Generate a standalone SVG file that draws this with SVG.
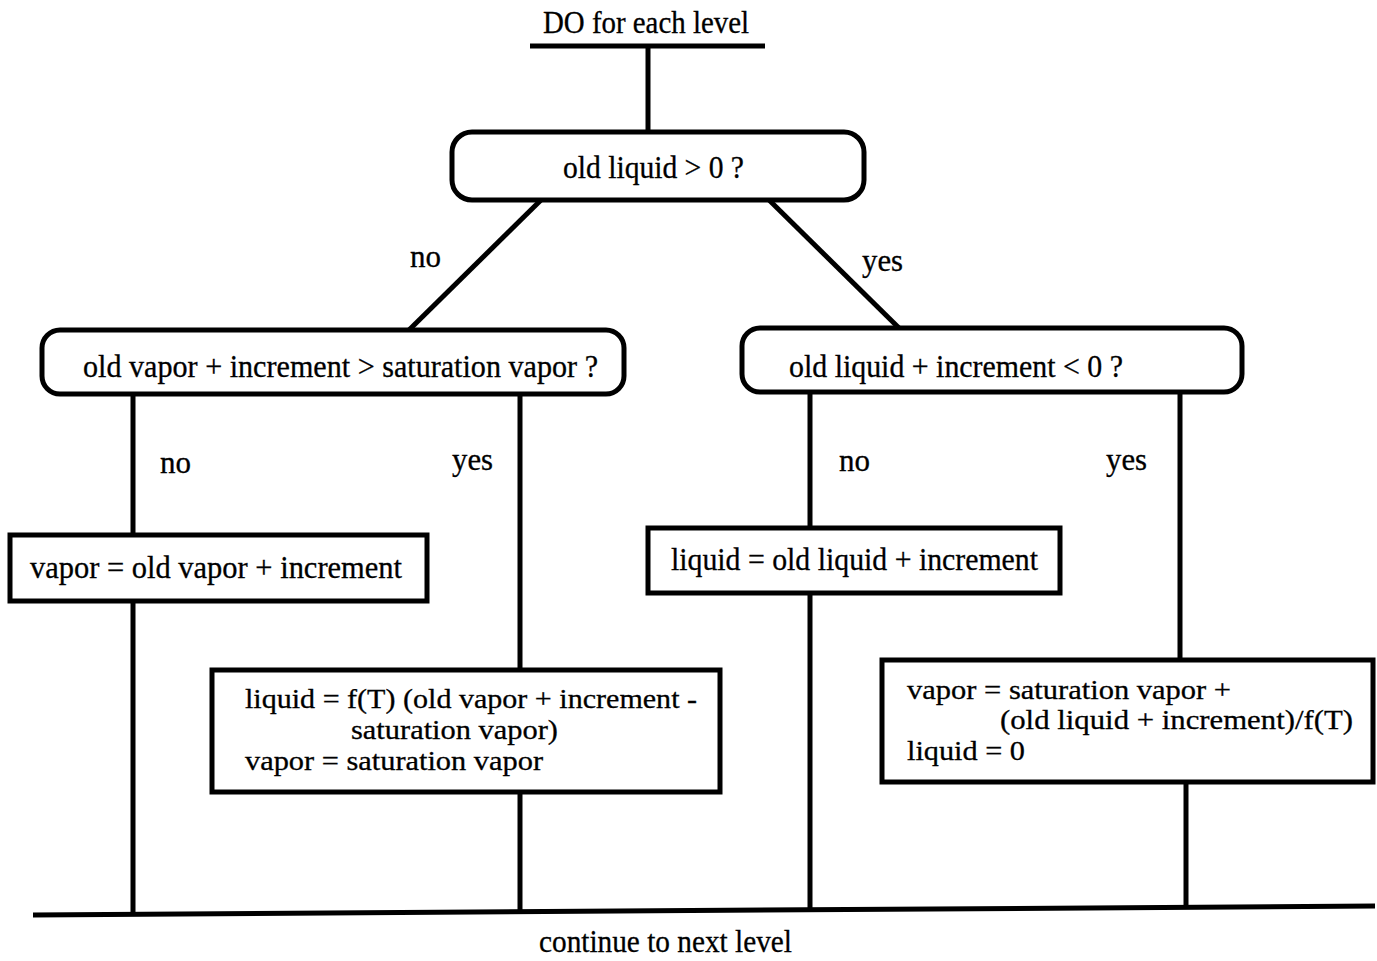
<svg xmlns="http://www.w3.org/2000/svg" width="1377" height="961" viewBox="0 0 1377 961">
  <style>
    text { font-family: "Liberation Serif", "Times New Roman", serif; font-size: 31px; fill: #000; stroke: #000; stroke-width: 0.3; }
    text.tight { font-size: 28px; }
    .dec { fill: #fff; stroke: #000; stroke-width: 5; }
    .proc { fill: #fff; stroke: #000; stroke-width: 5; }
    .wire { stroke: #000; stroke-width: 5; fill: none; stroke-linecap: butt; }
  </style>
  <rect width="1377" height="961" fill="#fff"/>

  <!-- connectors -->
  <g id="connectors">
    <line class="wire" x1="530" y1="46" x2="765" y2="46"/>
    <line class="wire" x1="648" y1="46" x2="648" y2="133"/>
    <line class="wire" x1="541" y1="200" x2="408" y2="331"/>
    <line class="wire" x1="766" y1="197" x2="900" y2="329"/>
    <line class="wire" x1="133" y1="395" x2="133" y2="535"/>
    <line class="wire" x1="520" y1="395" x2="520" y2="670"/>
    <line class="wire" x1="810" y1="393" x2="810" y2="528"/>
    <line class="wire" x1="1180" y1="386" x2="1180" y2="660"/>
    <line class="wire" x1="133" y1="602" x2="133" y2="915"/>
    <line class="wire" x1="520" y1="792" x2="520" y2="912"/>
    <line class="wire" x1="810" y1="594" x2="810" y2="911"/>
    <line class="wire" x1="1186" y1="783" x2="1186" y2="908"/>
    <line class="wire" x1="33" y1="915" x2="1375" y2="906"/>
    <text x="410" y="267" textLength="31" lengthAdjust="spacingAndGlyphs">no</text>
    <text x="862" y="271" textLength="41" lengthAdjust="spacingAndGlyphs">yes</text>
    <text x="160" y="473" textLength="31" lengthAdjust="spacingAndGlyphs">no</text>
    <text x="452" y="470" textLength="41" lengthAdjust="spacingAndGlyphs">yes</text>
    <text x="839" y="471" textLength="31" lengthAdjust="spacingAndGlyphs">no</text>
    <text x="1106" y="470" textLength="41" lengthAdjust="spacingAndGlyphs">yes</text>
  </g>

  <g id="start">
    <text x="543" y="33" textLength="206" lengthAdjust="spacingAndGlyphs">DO for each level</text>
  </g>

  <g id="q-old-liquid">
    <rect class="dec" x="452" y="132" width="412" height="68" rx="20"/>
    <text x="563" y="178" textLength="181" lengthAdjust="spacingAndGlyphs">old liquid &gt; 0 ?</text>
  </g>

  <g id="q-vapor">
    <rect class="dec" x="42" y="330" width="582" height="64" rx="18"/>
    <text x="83" y="377" textLength="515" lengthAdjust="spacingAndGlyphs">old vapor + increment &gt; saturation vapor ?</text>
  </g>

  <g id="q-liquid">
    <rect class="dec" x="742" y="328" width="500" height="64" rx="18"/>
    <text x="789" y="377" textLength="334" lengthAdjust="spacingAndGlyphs">old liquid + increment &lt; 0 ?</text>
  </g>

  <g id="p-vapor-add">
    <rect class="proc" x="10" y="535" width="417" height="66"/>
    <text x="30" y="578" textLength="372" lengthAdjust="spacingAndGlyphs">vapor = old vapor + increment</text>
  </g>

  <g id="p-condense">
    <rect class="proc" x="212" y="670" width="508" height="122"/>
    <text class="tight" x="245" y="708" textLength="452" lengthAdjust="spacingAndGlyphs">liquid = f(T) (old vapor + increment -</text>
    <text class="tight" x="351" y="739" textLength="207" lengthAdjust="spacingAndGlyphs">saturation vapor)</text>
    <text class="tight" x="245" y="770" textLength="298" lengthAdjust="spacingAndGlyphs">vapor = saturation vapor</text>
  </g>

  <g id="p-liquid-add">
    <rect class="proc" x="648" y="528" width="412" height="65"/>
    <text x="671" y="570" textLength="367" lengthAdjust="spacingAndGlyphs">liquid = old liquid + increment</text>
  </g>

  <g id="p-evaporate">
    <rect class="proc" x="882" y="660" width="491" height="122"/>
    <text class="tight" x="907" y="699" textLength="324" lengthAdjust="spacingAndGlyphs">vapor = saturation vapor +</text>
    <text class="tight" x="1000" y="729" textLength="353" lengthAdjust="spacingAndGlyphs">(old liquid + increment)/f(T)</text>
    <text class="tight" x="907" y="760" textLength="118" lengthAdjust="spacingAndGlyphs">liquid = 0</text>
  </g>

  <g id="end">
    <text x="539" y="952" textLength="253" lengthAdjust="spacingAndGlyphs">continue to next level</text>
  </g>
</svg>
